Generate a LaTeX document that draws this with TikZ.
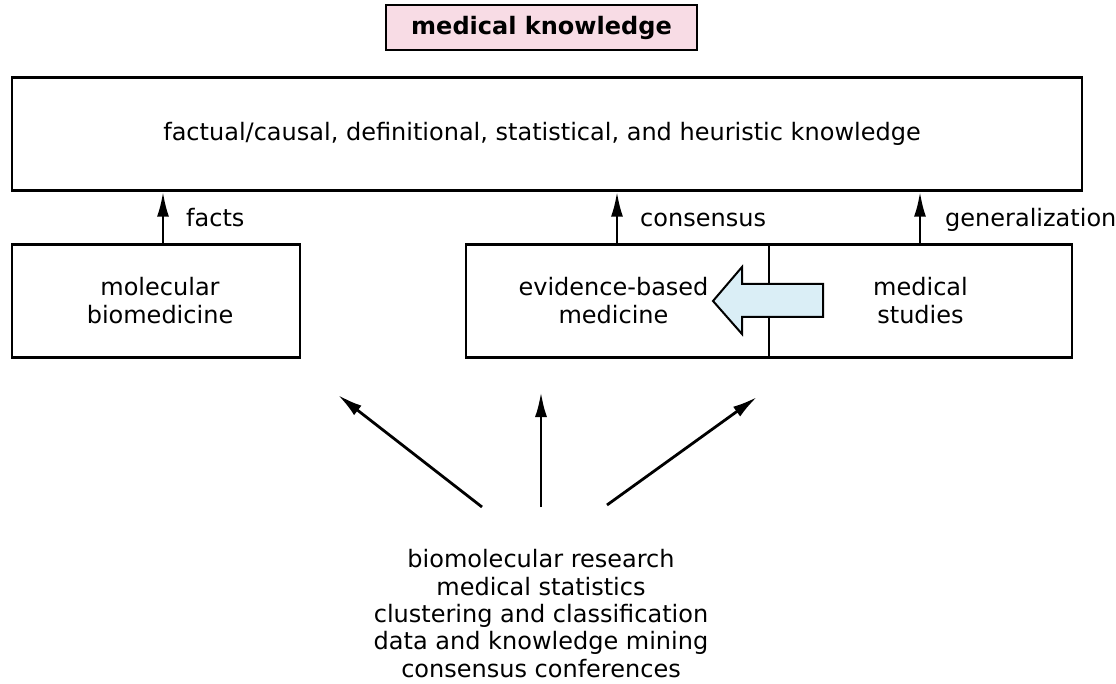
\documentclass[tikz,border=0pt]{standalone}
\usepackage{fontspec}
\setmainfont{DejaVu Sans}
\usetikzlibrary{arrows.meta}
\definecolor{titlepink}{RGB}{248,220,229}
\definecolor{arrowblue}{RGB}{218,238,246}
\tikzset{
  box/.style={draw=black, line width=2.2pt, rectangle, inner sep=0pt, align=center,
    font=\fontsize{24}{28}\selectfont},
  lbl/.style={font=\fontsize{24}{28}\selectfont, inner sep=0pt, anchor=base west},
  flow/.style={line width=2.8pt, -{Latex[length=25pt,width=12pt]}},
}
\begin{document}
\begin{tikzpicture}[x=1pt,y=-1pt]
  \useasboundingbox (0,0) rectangle (1116,684);

  % title
  \node[box, fill=titlepink, minimum width=311pt, minimum height=45pt,
        font=\fontsize{24}{28}\selectfont\bfseries] (title) at (541.5,27.5) {medical knowledge};

  % knowledge kinds
  \node[box, minimum width=1070pt, minimum height=113pt] (know) at (547,134)
    {\hspace*{-10pt}factual/causal, definitional, statistical, and heuristic knowledge};

  % sources of knowledge
  \node[box, minimum width=288pt, minimum height=113pt] (mol) at (156,301)
    {\hspace*{8pt}molecular\\\hspace*{8pt}biomedicine};
  \node[box, minimum width=303pt, minimum height=113pt] (ebm) at (617.5,301)
    {\hspace*{-8pt}evidence-based\\\hspace*{-8pt}medicine};
  \node[box, minimum width=303pt, minimum height=113pt] (studies) at (920.5,301)
    {medical\\studies};

  % upward contributions
  \draw[flow] (mol.north -| 163,0) -- (know.south -| 163,0);
  \node[lbl] (lfacts) at (186,227) {facts};
  \draw[flow] (ebm.north -| 617,0) -- (know.south -| 617,0);
  \node[lbl] (lcons) at (640,227) {consensus};
  \draw[flow] (studies.north -| 920,0) -- (know.south -| 920,0);
  \node[lbl] (lgen) at (945,227) {generalization};

  % studies feed evidence-based medicine
  \draw[line width=2pt, fill=arrowblue, line join=miter]
    (713,301) -- (742,267) -- (742,284) -- (823,284) -- (823,317)
    -- (742,317) -- (742,334) -- cycle;

  % methods
  \node[font=\fontsize{24}{27.3}\selectfont, align=center, inner sep=0pt, anchor=base]
    (methods) at (541,677)
    {biomolecular research\\medical statistics\\clustering and classification\\
     data and knowledge mining\\consensus conferences};
  \coordinate (mA) at (482,507);
  \coordinate (mB) at (541,507);
  \coordinate (mC) at (607,505);
  \coordinate (tA) at (338,395);
  \coordinate (tB) at (541,392);
  \coordinate (tC) at (757,397);
  \draw[flow] (mA) -- (tA);
  \draw[flow] (mB) -- (tB);
  \draw[flow] (mC) -- (tC);
\end{tikzpicture}
\end{document}
